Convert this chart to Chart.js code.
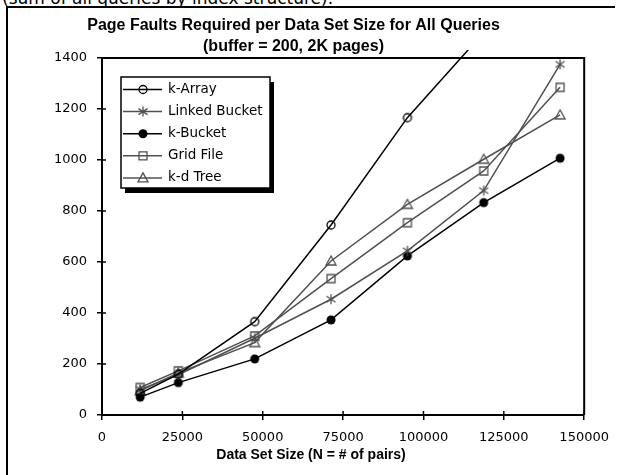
<!DOCTYPE html>
<html>
<head>
<meta charset="utf-8">
<script src="https://cdn.jsdelivr.net/npm/chart.js@4"></script>
<style>
  body { margin: 0; background: #fff; }
  #wrap { position: relative; width: 619px; height: 475px; overflow: hidden; }
  #doc-text { position: absolute; left: 2px; top: -11px; font: 17px/18px "DejaVu Sans", sans-serif; color: #000; white-space: nowrap; }
  #frame { position: absolute; left: 6px; top: 6px; width: 607px; height: 520px; border-top: 2px solid #000; border-left: 2px solid #000; }
  #graph { position: absolute; left: 0; top: 0; }
</style>
</head>
<body>
<div id="wrap">
  <div id="doc-text">(sum of all queries by index structure).</div>
  <div id="frame"></div>
  <canvas id="graph" width="619" height="475"></canvas>
</div>
<script>
// data set sizes (N) and page faults per structure
const sizes = [11875, 23750, 47500, 71250, 95000, 118750, 142500];
const kArray = [85, 160, 366, 745, 1166, 1500, null];
const linkedBucket = [100, 158, 301, 454, 644, 880, 1375];
const kBucket = [70, 127, 220, 373, 624, 833, 1007];
const gridFile = [108, 173, 310, 535, 754, 957, 1285];
const kdTree = [95, 165, 284, 604, 826, 1003, 1177];

const xTicks = [0, 25000, 50000, 75000, 100000, 125000, 150000];
const yTicks = [0, 200, 400, 600, 800, 1000, 1200, 1400];

const seriesNames = ['k-Array', 'Linked Bucket', 'k-Bucket', 'Grid File', 'k-d Tree'];
const seriesValues = [kArray, linkedBucket, kBucket, gridFile, kdTree];
const seriesMarkers = ['circle', 'star', 'dot', 'square', 'triangle'];
const seriesColors = ['#000', '#505050', '#000', '#505050', '#505050'];

Chart.defaults.font.family = '"DejaVu Sans", sans-serif';
Chart.defaults.color = '#000';

let drawMarker = (ctx, kind, x, y, color) => {
  ctx.save();
  ctx.strokeStyle = color;
  ctx.fillStyle = color;
  ctx.lineWidth = 1.3;
  ctx.beginPath();
  if (kind === 'circle') {
    ctx.arc(x, y, 4, 0, Math.PI * 2);
    ctx.stroke();
  } else if (kind === 'dot') {
    ctx.arc(x, y, 4.5, 0, Math.PI * 2);
    ctx.fill();
  } else if (kind === 'square') {
    ctx.rect(x - 4, y - 4, 8, 8);
    ctx.stroke();
  } else if (kind === 'triangle') {
    ctx.moveTo(x, y - 5);
    ctx.lineTo(x + 5, y + 4);
    ctx.lineTo(x - 5, y + 4);
    ctx.closePath();
    ctx.stroke();
  } else if (kind === 'star') {
    ctx.moveTo(x, y - 5); ctx.lineTo(x, y + 5);
    ctx.moveTo(x - 4.5, y - 3); ctx.lineTo(x + 4.5, y + 3);
    ctx.moveTo(x - 4.5, y + 3); ctx.lineTo(x + 4.5, y - 3);
    ctx.stroke();
  }
  ctx.restore();
};

let makeMarker = (kind, color) => {
  const c = document.createElement('canvas');
  c.width = 14;
  c.height = 14;
  drawMarker(c.getContext('2d'), kind, 7, 7, color);
  return c;
};

const datasets = seriesNames.map((name, i) => ({
  label: name,
  data: sizes.map((x, j) => ({ x: x, y: seriesValues[i][j] })).filter(p => p.y !== null),
  borderColor: seriesColors[i],
  backgroundColor: seriesColors[i],
  borderWidth: 1.5,
  pointStyle: makeMarker(seriesMarkers[i], seriesColors[i]),
  pointRadius: 5,
  marker: seriesMarkers[i],
  tension: 0,
  fill: false,
  clip: { left: 0, top: 8, right: 0, bottom: 0 }
}));

// ticks that cross the axis lines, border of plot area
const axisDecor = {
  id: 'axisDecor',
  beforeDatasetsDraw(chart) {
    const { ctx, chartArea: a, scales } = chart;
    ctx.save();
    ctx.strokeStyle = '#000';
    ctx.lineWidth = 1.5;
    scales.x.ticks.forEach(t => {
      const px = scales.x.getPixelForValue(t.value);
      ctx.beginPath(); ctx.moveTo(px, a.bottom); ctx.lineTo(px, a.bottom - 4); ctx.stroke();
    });
    scales.y.ticks.forEach(t => {
      const py = scales.y.getPixelForValue(t.value);
      ctx.beginPath(); ctx.moveTo(a.left, py); ctx.lineTo(a.left + 4, py); ctx.stroke();
    });
    ctx.lineWidth = 2;
    ctx.beginPath();
    ctx.moveTo(a.left, a.top); ctx.lineTo(a.right, a.top); ctx.lineTo(a.right, a.bottom);
    ctx.stroke();
    ctx.restore();
  },
  afterDraw(chart) {
    const { ctx } = chart;
    ctx.save();
    ctx.fillStyle = '#000';
    ctx.font = 'bold 14px "Liberation Sans", Arial, sans-serif';
    ctx.textAlign = 'center';
    ctx.textBaseline = 'middle';
    ctx.fillText('Data Set Size (N = # of pairs)', 311, 455);
    ctx.restore();
  }
};

// boxed legend with drop shadow inside the plot
const boxLegend = {
  id: 'boxLegend',
  afterDraw(chart) {
    const { ctx } = chart;
    const lx = 121, ly = 77, lw = 149, lh = 111;
    ctx.save();
    ctx.fillStyle = '#000';
    ctx.fillRect(lx + 4, ly + 5, lw, lh);
    ctx.fillStyle = '#fff';
    ctx.fillRect(lx, ly, lw, lh);
    ctx.strokeStyle = '#000';
    ctx.lineWidth = 1.5;
    ctx.strokeRect(lx, ly, lw, lh);
    ctx.font = '13.5px "DejaVu Sans", sans-serif';
    ctx.textBaseline = 'middle';
    chart.data.datasets.forEach((ds, i) => {
      const y = ly + 12.5 + i * 22.1;
      ctx.strokeStyle = ds.borderColor;
      ctx.lineWidth = 1.5;
      ctx.beginPath(); ctx.moveTo(lx + 2, y); ctx.lineTo(lx + 41, y); ctx.stroke();
      drawMarker(ctx, ds.marker, lx + 22, y, ds.borderColor);
      ctx.fillStyle = '#000';
      ctx.fillText(ds.label, lx + 47, y);
    });
    ctx.restore();
  }
};

const config = {
  type: 'line',
  data: { datasets: datasets },
  options: {
    responsive: false,
    animation: false,
    devicePixelRatio: 1,
    layout: { padding: { left: 0, right: 32, top: 0, bottom: 0 } },
    plugins: {
      legend: { display: false },
      tooltip: { enabled: false },
      title: {
        display: true,
        text: ['Page Faults Required per Data Set Size for All Queries', '(buffer = 200, 2K pages)'],
        color: '#000',
        font: { family: '"Liberation Sans", Arial, sans-serif', size: 16, weight: 'bold', lineHeight: 1.3125 },
        padding: { top: 15.5, bottom: 0.5 }
      }
    },
    scales: {
      x: {
        type: 'linear',
        min: xTicks[0],
        max: xTicks[xTicks.length - 1],
        afterBuildTicks: s => { s.ticks = xTicks.map(v => ({ value: v })); },
        afterFit: s => { s.height = 60; },
        ticks: { callback: v => String(v), font: { size: 13 }, color: '#000', padding: 10, maxRotation: 0, autoSkip: false },
        grid: { drawOnChartArea: false, drawTicks: true, tickLength: 5, color: '#000', lineWidth: 1.5 },
        border: { color: '#000', width: 2 }
      },
      y: {
        min: yTicks[0],
        max: yTicks[yTicks.length - 1],
        afterBuildTicks: s => { s.ticks = yTicks.map(v => ({ value: v })); },
        afterFit: s => { s.width = 102; },
        ticks: { callback: v => String(v), font: { size: 13 }, color: '#000', padding: 10 },
        grid: { drawOnChartArea: false, drawTicks: true, tickLength: 5, color: '#000', lineWidth: 1.5 },
        border: { color: '#000', width: 2 }
      }
    }
  },
  plugins: [axisDecor, boxLegend]
};

const chart = new Chart(document.querySelector('#graph'), config);
</script>
</body>
</html>
